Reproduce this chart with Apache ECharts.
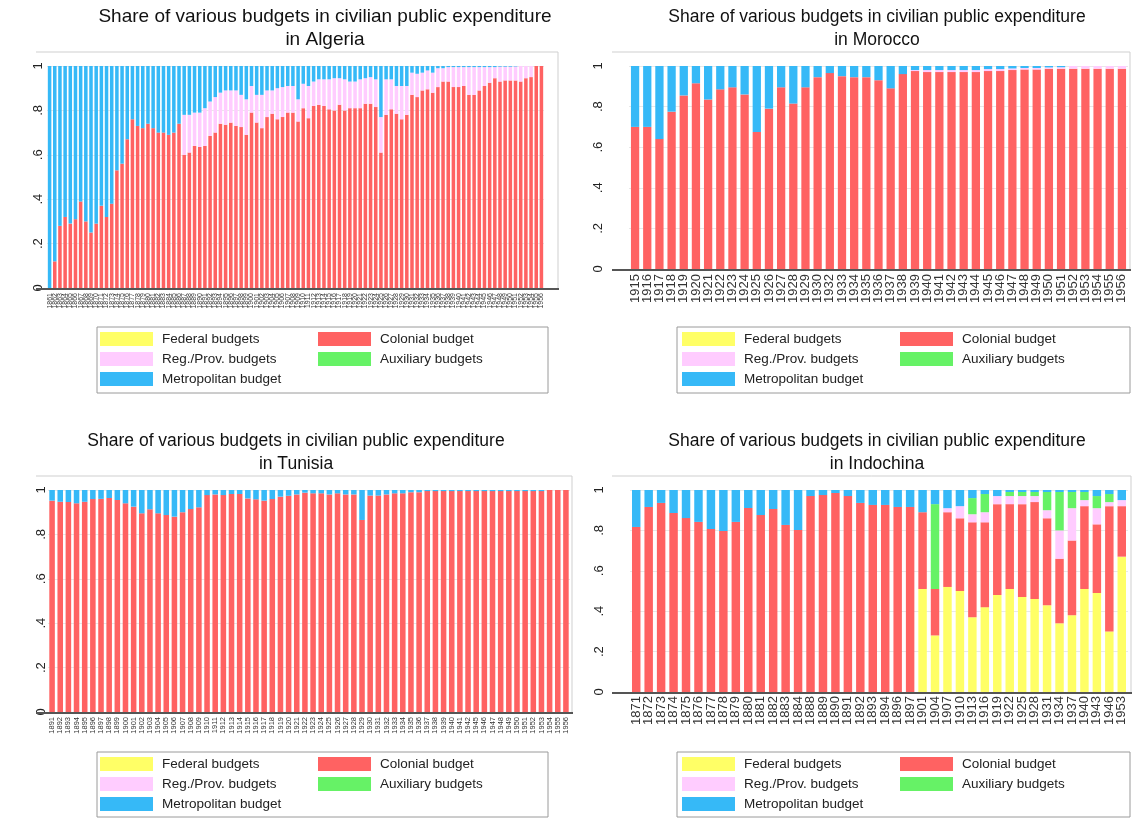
<!DOCTYPE html>
<html>
<head>
<meta charset="utf-8">
<script src="https://cdn.jsdelivr.net/npm/echarts@6/dist/echarts.min.js"></script>
<style>
  html, body { margin: 0; padding: 0; background: #fff; }
  #main { width: 1134px; height: 818px; }
</style>
</head>
<body>
<div id="main"></div>
<script>
// ---- data (shares of civilian public expenditure) ----
const algYears = ['1861','1862','1863','1864','1865','1866','1867','1868','1869','1870','1871','1872','1873','1874','1875','1876','1877','1878','1879','1880','1881','1882','1883','1884','1885','1886','1887','1888','1889','1890','1891','1892','1893','1894','1895','1896','1897','1898','1899','1900','1901','1902','1903','1904','1905','1906','1907','1908','1909','1910','1911','1912','1913','1914','1915','1916','1917','1918','1919','1920','1921','1922','1923','1924','1925','1926','1927','1928','1929','1930','1931','1932','1933','1934','1935','1936','1937','1938','1939','1940','1941','1942','1943','1944','1945','1946','1947','1948','1949','1950','1951','1952','1953','1954','1955','1956'];
const algColonial = [0,.12,.28,.32,.29,.31,.39,.30,.25,.29,.37,.32,.38,.53,.56,.67,.76,.73,.72,.74,.72,.70,.70,.69,.70,.74,
  .60,.61,.64,.635,.64,.685,.70,.74,.735,.745,.73,.725,.69,.79,.745,.72,.77,.785,.76,.77,.79,.79,.75,.81,.765,
  .82,.825,.82,.805,.80,.825,.80,.81,.81,.81,.83,.83,.815,.61,.78,.805,.785,.76,.78,.87,.86,.89,.895,.88,.905,
  .93,.93,.905,.905,.91,.87,.87,.89,.91,.925,.945,.93,.935,.935,.935,.93,.945,.95,1,1];
const algRegional = [0,0,0,0,0,0,0,0,0,0,0,0,0,0,0,0,0,0,0,0,0,0,0,0,0,0,
  .18,.17,.15,.155,.17,.155,.16,.14,.155,.145,.16,.145,.16,.12,.125,.15,.12,.105,.14,.135,.12,.12,.10,.11,.145,
  .11,.115,.12,.135,.145,.12,.14,.12,.12,.13,.115,.12,.125,.16,.16,.135,.125,.15,.13,.10,.105,.08,.085,.09,.085,
  .06,.065,.09,.09,.085,.125,.125,.105,.085,.07,.05,.067,.062,.062,.063,.07,.055,.05,0,0];
const algMetro = [1,.88,.72,.68,.71,.69,.61,.70,.75,.71,.63,.68,.62,.47,.44,.33,.24,.27,.28,.26,.28,.30,.30,.31,.30,.26,
  .22,.22,.21,.21,.19,.16,.14,.12,.11,.11,.11,.13,.15,.09,.13,.13,.11,.11,.10,.095,.09,.09,.15,.08,.09,
  .07,.06,.06,.06,.055,.055,.06,.07,.07,.06,.055,.05,.06,.23,.06,.06,.09,.09,.09,.03,.035,.03,.02,.03,.01,
  .01,.005,.005,.005,.005,.005,.005,.005,.005,.005,.005,.003,.003,.003,.002,0,0,0,0,0];

const morYears = ['1915','1916','1917','1918','1919','1920','1921','1922','1923','1924','1925','1926','1927','1928','1929','1930','1932','1933','1934','1935','1936','1937','1938','1939','1940','1941','1942','1943','1944','1945','1946','1947','1948','1949','1950','1951','1952','1953','1954','1955','1956'];
const morColonial = [.70,.70,.64,.775,.855,.915,.835,.885,.895,.86,.675,.79,.895,.815,.895,.945,.965,.95,.945,.945,.93,.89,.96,
  .975,.97,.97,.97,.97,.97,.975,.975,.98,.983,.983,.987,.987,.987,.987,.987,.987,.987];
const morRegional = [0,0,0,0,0,0,0,0,0,0,0,0,0,0,0,0,0,0,0,0,0,0,0,
  .005,.01,.01,.01,.01,.01,.01,.01,.008,.007,.007,.006,.007,.013,.013,.013,.013,.013];
const morMetro = [.30,.30,.36,.225,.145,.085,.165,.115,.105,.14,.325,.21,.105,.185,.105,.055,.035,.05,.055,.055,.07,.11,.04,
  .02,.02,.02,.02,.02,.02,.015,.015,.012,.01,.01,.007,.006,0,0,0,0,0];

const tunYears = ['1891','1892','1893','1894','1895','1896','1897','1898','1899','1900','1901','1902','1903','1904','1905','1906','1907','1908','1909','1910','1911','1912','1913','1914','1915','1916','1917','1918','1919','1920','1921','1922','1923','1924','1925','1926','1927','1928','1929','1930','1931','1932','1933','1934','1935','1936','1937','1938','1939','1940','1941','1942','1945','1946','1947','1948','1949','1950','1951','1952','1953','1954','1955','1956'];
const tunColonial = [.952,.947,.946,.94,.947,.959,.96,.964,.955,.94,.925,.895,.913,.895,.887,.88,.90,.914,.922,.977,.98,.977,.982,.982,
  .962,.958,.952,.959,.97,.974,.98,.988,.985,.985,.98,.985,.98,.98,.865,.975,.975,.98,.985,.985,.99,.99,
  .995,.995,.995,.995,.995,.995,.995,.995,.995,.995,.995,.995,.995,.995,.995,1,1,1];
const tunMetro = [.048,.053,.054,.06,.053,.041,.04,.036,.045,.06,.075,.105,.087,.105,.113,.12,.10,.086,.078,.023,.02,.023,.018,.018,
  .038,.042,.048,.041,.03,.026,.02,.012,.015,.015,.02,.015,.02,.02,.135,.025,.025,.02,.015,.015,.01,.01,
  .005,.005,.005,.005,.005,.005,.005,.005,.005,.005,.005,.005,.005,.005,.005,0,0,0];

const indYears = ['1871','1872','1873','1874','1875','1876','1877','1878','1879','1880','1881','1882','1883','1884','1888','1889','1890','1891','1892','1893','1894','1896','1897','1901','1904','1907','1910','1913','1916','1919','1922','1925','1928','1931','1934','1937','1940','1943','1946','1953'];
const indFederal = [0,0,0,0,0,0,0,0,0,0,0,0,0,0,0,0,0,0,0,0,0,0,0,
  .51,.28,.52,.50,.37,.42,.48,.51,.47,.46,.43,.34,.38,.51,.49,.30,.67];
const indColonial = [.817,.916,.936,.886,.861,.842,.807,.797,.842,.911,.876,.906,.827,.802,.97,.975,.985,.97,.936,.926,.926,.916,.916,
  .38,.23,.37,.36,.47,.42,.45,.42,.46,.48,.43,.32,.37,.41,.34,.62,.25];
const indRegional = [0,0,0,0,0,0,0,0,0,0,0,0,0,0,0,0,0,0,0,0,0,0,0,
  0,0,.02,.06,.04,.05,.04,.04,.04,.03,.04,.14,.16,.03,.08,.02,.03];
const indAuxiliary = [0,0,0,0,0,0,0,0,0,0,0,0,0,0,0,0,0,0,0,0,0,0,0,
  0,.42,0,0,.08,.09,0,.02,.02,.02,.09,.19,.08,.04,.06,.04,0];
const indMetro = [.183,.084,.064,.114,.139,.158,.193,.203,.158,.089,.124,.094,.173,.198,.03,.025,.015,.03,.064,.074,.074,.084,.084,
  .11,.07,.09,.08,.04,.02,.03,.01,.01,.01,.01,.01,.01,.01,.03,.02,.05];

// ---- styling ----
const FONT = '"Liberation Sans", Arial, sans-serif';
const COLORS = {
  'Federal budgets': '#ffff66',
  'Colonial budget': '#ff6262',
  'Reg./Prov. budgets': '#ffccff',
  'Auxiliary budgets': '#66f266',
  'Metropolitan budget': '#36b9f7'
};

// panel layout: grid box, frame, title centre, legend anchor
const panels = [
  { name: 'Algeria', grid: {left: 47, top: 66, width: 497, height: 222}, frame: [36, 52, 558, 288],
    titleX: 325, titleY: 5, titleSize: 19, yMargin: 2, xFont: 7, xMargin: 5,
    legend: [100, 332, 318], box: [97, 327, 451, 66] },
  { name: 'Morocco', grid: {left: 629, top: 66, width: 499, height: 203}, frame: [612, 52, 1130, 269],
    titleX: 877, titleY: 6, titleSize: 17.5, yMargin: 24, xFont: 13, xMargin: 5,
    legend: [682, 332, 900], box: [677, 327, 453, 66] },
  { name: 'Tunisia', grid: {left: 48, top: 490, width: 522, height: 222}, frame: [36, 476, 572, 712],
    titleX: 296, titleY: 430, titleSize: 17.5, yMargin: 0, xFont: 7.5, xMargin: 5,
    legend: [100, 757, 318], box: [97, 752, 451, 65] },
  { name: 'Indochina', grid: {left: 630, top: 490, width: 498, height: 202}, frame: [612, 476, 1131, 692],
    titleX: 877, titleY: 430, titleSize: 17.5, yMargin: 24, xFont: 13, xMargin: 4,
    legend: [682, 757, 900], box: [677, 752, 453, 65] }
];

const panelData = [
  { years: algYears, series: [['Colonial budget', algColonial], ['Reg./Prov. budgets', algRegional], ['Metropolitan budget', algMetro]] },
  { years: morYears, series: [['Colonial budget', morColonial], ['Reg./Prov. budgets', morRegional], ['Metropolitan budget', morMetro]] },
  { years: tunYears, series: [['Colonial budget', tunColonial], ['Metropolitan budget', tunMetro]] },
  { years: indYears, series: [['Federal budgets', indFederal], ['Colonial budget', indColonial], ['Reg./Prov. budgets', indRegional],
                              ['Auxiliary budgets', indAuxiliary], ['Metropolitan budget', indMetro]] }
];

const yFmt = (v) => {
  if (v === 0) return '0';
  if (v >= 1) return '1';
  return '.' + Math.round(v * 10);
};

const grids = [], xAxes = [], yAxes = [], series = [], titles = [], legends = [], graphics = [];

panels.forEach((p, i) => {
  grids.push(p.grid);
  xAxes.push({
    type: 'category', gridIndex: i, data: panelData[i].years,
    axisLine: {show: false}, axisTick: {show: false},
    axisLabel: {interval: 0, rotate: 90, fontSize: p.xFont, color: '#333', fontFamily: FONT, margin: p.xMargin}
  });
  yAxes.push({
    type: 'value', gridIndex: i, min: 0, max: 1, interval: 0.2,
    axisLine: {show: false}, axisTick: {show: false},
    axisLabel: {rotate: 90, fontSize: 13, color: '#222', fontFamily: FONT, margin: p.yMargin, formatter: yFmt},
    splitLine: {lineStyle: {color: '#e8e8e8', width: 1}}
  });
  panelData[i].series.forEach(([name, values]) => {
    series.push({
      name, type: 'bar', stack: p.name, xAxisIndex: i, yAxisIndex: i,
      data: values, barCategoryGap: '32%',
      itemStyle: {color: COLORS[name]},
      emphasis: {disabled: true}
    });
  });
  titles.push({
    text: 'Share of various budgets in civilian public expenditure\nin ' + p.name,
    left: p.titleX, top: p.titleY, textAlign: 'center', padding: 0,
    textStyle: {fontFamily: FONT, fontSize: p.titleSize, fontWeight: 'normal', color: '#111', lineHeight: 23}
  });
  const legendBase = {
    orient: 'vertical', top: p.legend[1], padding: 0, itemGap: 6, itemWidth: 53, itemHeight: 14,
    icon: 'rect', selectedMode: false,
    textStyle: {fontFamily: FONT, fontSize: 13.5, color: '#222', padding: [0, 0, 0, 4], lineHeight: 14}
  };
  legends.push(Object.assign({}, legendBase, {left: p.legend[0], data: ['Federal budgets', 'Reg./Prov. budgets', 'Metropolitan budget']}));
  legends.push(Object.assign({}, legendBase, {left: p.legend[2], data: ['Colonial budget', 'Auxiliary budgets']}));

  const [fl, ft, fr, fb] = p.frame;
  graphics.push({type: 'polyline', silent: true, z: 10,
    shape: {points: [[fl, ft], [fr, ft], [fr, fb]]}, style: {stroke: '#cfcfcf', lineWidth: 1, fill: null}});
  graphics.push({type: 'line', silent: true, z: 11,
    shape: {x1: fl, y1: fb + 1, x2: fr + 1, y2: fb + 1}, style: {stroke: '#555', lineWidth: 2}});
  const [bx, by, bw, bh] = p.box;
  graphics.push({type: 'rect', silent: true, z: 10,
    shape: {x: bx, y: by, width: bw, height: bh}, style: {stroke: '#9a9a9a', lineWidth: 1, fill: null}});
});

const chart = echarts.init(document.getElementById('main'), null, {renderer: 'canvas'});
chart.setOption({
  backgroundColor: '#fff',
  animation: false,
  color: Object.values(COLORS),
  title: titles,
  legend: legends,
  grid: grids,
  xAxis: xAxes,
  yAxis: yAxes,
  series: series,
  graphic: graphics
});
</script>
</body>
</html>
